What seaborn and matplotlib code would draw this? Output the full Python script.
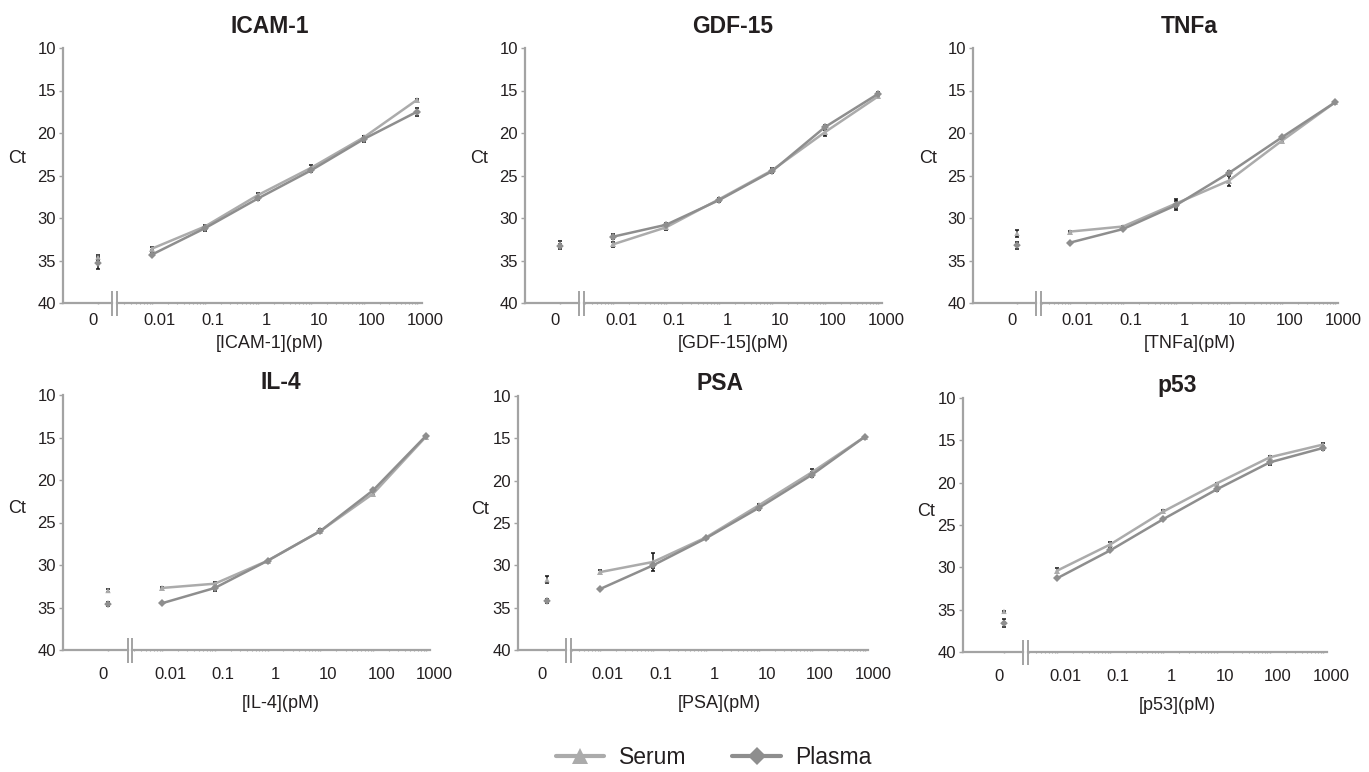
import numpy as np
import pandas as pd
import matplotlib
matplotlib.use("Agg")
import matplotlib.pyplot as plt
import matplotlib.transforms as mtransforms
from matplotlib.lines import Line2D
from matplotlib.ticker import LogLocator, NullFormatter, FixedLocator, FixedFormatter
import seaborn as sns

# ---------------- data ----------------
ANALYTES = ["ICAM-1", "GDF-15", "TNFa", "IL-4", "PSA", "p53"]
CONCENTRATIONS = [0.01, 0.1, 1, 10, 100, 1000]          # pM, first entry of each series below is the blank (0 pM)
CONC_LABELS = ["0.01", "0.1", "1", "10", "100", "1000"]
ZERO_LABEL = "0"

SERUM_CT = {
    "ICAM-1": [34.6, 33.6, 31.0, 27.3, 24.1, 20.5, 16.1],
    "GDF-15": [33.0, 33.1, 31.1, 27.8, 24.4, 19.9, 15.7],
    "TNFa":   [31.8, 31.6, 31.0, 28.3, 25.6, 20.9, 16.4],
    "IL-4":   [33.0, 32.7, 32.2, 29.5, 26.0, 21.6, 14.9],
    "PSA":    [31.7, 30.8, 29.6, 26.7, 22.9, 19.0, 14.8],
    "p53":    [35.2, 30.4, 27.3, 23.4, 20.1, 17.0, 15.5],
}
PLASMA_CT = {
    "ICAM-1": [35.3, 34.3, 31.2, 27.7, 24.4, 20.7, 17.5],
    "GDF-15": [33.3, 32.2, 30.8, 27.9, 24.5, 19.3, 15.4],
    "TNFa":   [33.2, 32.9, 31.3, 28.5, 24.7, 20.5, 16.4],
    "IL-4":   [34.6, 34.5, 32.7, 29.5, 26.0, 21.2, 14.8],
    "PSA":    [34.2, 32.8, 30.0, 26.8, 23.2, 19.3, 14.8],
    "p53":    [36.6, 31.3, 28.0, 24.3, 20.8, 17.6, 15.9],
}
SERUM_SD = {
    "ICAM-1": [0.3, 0.2, 0.2, 0.2, 0.3, 0.2, 0.1],
    "GDF-15": [0.3, 0.3, 0.3, 0.2, 0.3, 0.4, 0.2],
    "TNFa":   [0.4, 0.1, 0.1, 0.5, 0.6, 0.2, 0.1],
    "IL-4":   [0.2, 0.1, 0.2, 0.1, 0.2, 0.2, 0.1],
    "PSA":    [0.4, 0.2, 1.1, 0.1, 0.2, 0.4, 0.1],
    "p53":    [0.1, 0.3, 0.3, 0.2, 0.1, 0.2, 0.2],
}
PLASMA_SD = {
    "ICAM-1": [0.7, 0.2, 0.3, 0.2, 0.2, 0.3, 0.5],
    "GDF-15": [0.3, 0.3, 0.2, 0.2, 0.2, 0.3, 0.2],
    "TNFa":   [0.4, 0.1, 0.1, 0.5, 0.2, 0.2, 0.1],
    "IL-4":   [0.2, 0.1, 0.3, 0.1, 0.2, 0.2, 0.1],
    "PSA":    [0.2, 0.1, 0.3, 0.1, 0.3, 0.3, 0.1],
    "p53":    [0.5, 0.1, 0.1, 0.1, 0.2, 0.3, 0.2],
}
Y_TICKS = [10, 15, 20, 25, 30, 35, 40]

# ---------------- style ----------------
W, H, DPI = 1369, 772, 100
TEXT = "#231f20"
AXIS = "#a3a3a3"
PALETTE = {"Serum": "#ababab", "Plasma": "#8e8e8e"}
MARKERS = {"Serum": "^", "Plasma": "D"}
ERR = dict(fmt="none", ecolor="#111111", elinewidth=1.1, capsize=1.6, capthick=1.1, zorder=1.5)

sns.set_theme(style="white")
plt.rcParams["font.family"] = ["Liberation Sans", "DejaVu Sans"]
plt.rcParams["text.color"] = TEXT
plt.rcParams["axes.labelcolor"] = TEXT
plt.rcParams["xtick.color"] = TEXT
plt.rcParams["ytick.color"] = TEXT

# panel geometry in pixels:
# y-axis x, blank x, break left, break right, 0.01 x, 1000 x, axis end, y(10), y(40), Ct offset
GEOM = [
    (63, 98, 112, 117, 152, 417, 422, 48, 303, 46),
    (525, 560, 579, 584, 613, 878, 882, 48, 303, 46),
    (973, 1017, 1036, 1041, 1070, 1335, 1338, 48, 303, 45),
    (63, 108, 128, 132, 162, 426, 430, 395, 650, 46),
    (518, 547, 566, 571, 600, 865, 868, 396, 650, 38),
    (963, 1004, 1023, 1028, 1057, 1323, 1327, 398, 652, 37),
]
ROW_STYLE = [  # tick pad, xlabel pad, title pad (points)
    dict(tickpad=6.5, labelpad=5.0, titlepad=11.0, ct_y=0.565),
    dict(tickpad=11.5, labelpad=9.0, titlepad=4.5, ct_y=0.555),
]

fig = plt.figure(figsize=(W / DPI, H / DPI), dpi=DPI)


def rect(x0, x1, ytop, ybot):
    return [x0 / W, 1 - ybot / H, (x1 - x0) / W, (ybot - ytop) / H]


def shift_labels(labels, dx_px):
    off = mtransforms.ScaledTranslation(dx_px / DPI, 0, fig.dpi_scale_trans)
    for lab in labels:
        lab.set_transform(lab.get_transform() + off)


for i, name in enumerate(ANALYTES):
    yx, zx, bl, br, x001, x1000, xend, ytop, ybot, ctdx = GEOM[i]
    row = ROW_STYLE[i // 3]

    ax0 = fig.add_axes(rect(yx, bl, ytop, ybot))
    ax1 = fig.add_axes(rect(br, xend, ytop, ybot))

    # ---- blank (0 pM) panel ----
    f = (zx - yx) / (bl - yx)
    ax0.set_xlim(-f, 1 - f)
    blank = pd.DataFrame({
        "conc": [0.0, 0.0],
        "ct": [SERUM_CT[name][0], PLASMA_CT[name][0]],
        "sample": ["Serum", "Plasma"],
    })
    for s, sd in (("Serum", SERUM_SD[name][0]), ("Plasma", PLASMA_SD[name][0])):
        yv = blank.loc[blank["sample"] == s, "ct"].values
        ax0.errorbar([0.0], yv, yerr=[sd], **ERR)
    sns.scatterplot(data=blank, x="conc", y="ct", hue="sample", style="sample",
                    palette=PALETTE, markers=MARKERS, s=15, linewidth=0,
                    legend=False, ax=ax0, zorder=3)

    # ---- concentration series (log axis) ----
    rows = []
    for s, src in (("Serum", SERUM_CT), ("Plasma", PLASMA_CT)):
        for c, v in zip(CONCENTRATIONS, src[name][1:]):
            rows.append({"conc": c, "ct": v, "sample": s})
    df = pd.DataFrame(rows)
    sns.lineplot(data=df, x="conc", y="ct", hue="sample", style="sample",
                 palette=PALETTE, markers=MARKERS, dashes=False, markersize=4.2,
                 markeredgewidth=0, linewidth=1.8, errorbar=None, legend=False,
                 ax=ax1, zorder=2)
    for s, src, sd in (("Serum", SERUM_CT, SERUM_SD), ("Plasma", PLASMA_CT, PLASMA_SD)):
        ax1.errorbar(CONCENTRATIONS, src[name][1:], yerr=sd[name][1:], **ERR)
    ax1.set_xscale("log")
    dec = (x1000 - x001) / 5.0
    ax1.set_xlim(10 ** (-2 - (x001 - br) / dec), 10 ** (3 + (xend - x1000) / dec))

    for ax in (ax0, ax1):
        ax.set_ylim(40, 10)
        ax.set_facecolor("none")
        ax.grid(False)
        ax.set_xlabel("")
        ax.set_ylabel("")
        for sp in ("top", "right"):
            ax.spines[sp].set_visible(False)
        ax.spines["bottom"].set_color(AXIS)
        ax.spines["bottom"].set_linewidth(1.6)
        ax.spines["left"].set_color(AXIS)
        ax.spines["left"].set_linewidth(1.6)
    ax1.spines["left"].set_visible(False)
    ax1.set_yticks([])

    # y axis
    ax0.yaxis.set_major_locator(FixedLocator(Y_TICKS))
    ax0.set_yticklabels([str(t) for t in Y_TICKS])
    ax0.tick_params(axis="y", which="major", length=3, width=1, color=AXIS,
                    direction="out", pad=2, labelsize=12, left=True)
    ax0.set_ylabel("Ct", rotation=0, fontsize=13, ha="center", va="center")
    ax0.yaxis.set_label_coords(-ctdx / (bl - yx), row["ct_y"])

    # x axes
    ax0.xaxis.set_major_locator(FixedLocator([0.0]))
    ax0.xaxis.set_major_formatter(FixedFormatter([ZERO_LABEL]))
    ax0.tick_params(axis="x", which="major", length=2, width=1, color=AXIS,
                    direction="inout", pad=row["tickpad"], labelsize=12, bottom=True)
    shift_labels(ax0.get_xticklabels(), -5)

    ax1.xaxis.set_major_locator(FixedLocator(CONCENTRATIONS))
    ax1.xaxis.set_major_formatter(FixedFormatter(CONC_LABELS))
    ax1.xaxis.set_minor_locator(LogLocator(base=10, subs=np.arange(2, 10), numticks=20))
    ax1.xaxis.set_minor_formatter(NullFormatter())
    ax1.tick_params(axis="x", which="major", length=2, width=1, color=AXIS,
                    direction="inout", pad=row["tickpad"], labelsize=12, bottom=True)
    ax1.tick_params(axis="x", which="minor", length=2, width=0.8, color=AXIS,
                    direction="inout", bottom=True)
    shift_labels(ax1.get_xticklabels(), 8)

    ax1.set_xlabel(f"[{name}](pM)", fontsize=13, labelpad=row["labelpad"])
    ax1.set_title(name, fontsize=16.5, fontweight="bold", pad=row["titlepad"])

    # axis break marks
    hb = 12.5 / (ybot - ytop)
    ax0.plot([1, 1], [-hb, hb], transform=ax0.transAxes, color=AXIS, lw=1.4,
             clip_on=False, solid_capstyle="butt")
    ax1.plot([0, 0], [-hb, hb], transform=ax1.transAxes, color=AXIS, lw=1.4,
             clip_on=False, solid_capstyle="butt")

# legend
handles = [
    Line2D([], [], color=PALETTE["Serum"], lw=3, marker="^", markersize=11, markeredgewidth=0),
    Line2D([], [], color=PALETTE["Plasma"], lw=3, marker="D", markersize=9, markeredgewidth=0),
]
fig.legend(handles, ["Serum", "Plasma"], loc="center", bbox_to_anchor=(714 / W, 1 - 758 / H),
           ncol=2, frameon=False, fontsize=16.5, handlelength=2.1, handletextpad=0.65,
           columnspacing=2.0)

fig.savefig("out.png", dpi=DPI)
